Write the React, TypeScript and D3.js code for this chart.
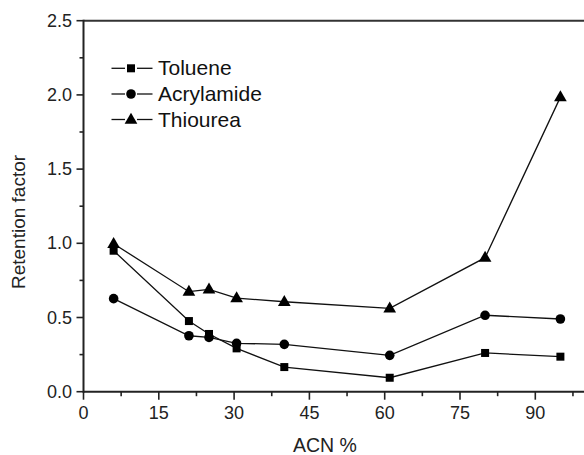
import React from "react";
import * as d3 from "d3";

const acn = [6, 21, 25, 30.5, 40, 61, 80, 95];
const toluene = [0.95, 0.476, 0.389, 0.292, 0.166, 0.094, 0.261, 0.236];
const acrylamide = [0.627, 0.377, 0.366, 0.326, 0.319, 0.245, 0.515, 0.49];
const thiourea = [0.997, 0.674, 0.69, 0.631, 0.606, 0.562, 0.903, 1.985];
const seriesNames = ["Toluene", "Acrylamide", "Thiourea"];
const seriesShapes = ["square", "circle", "triangle"];
const xTicks = [0, 15, 30, 45, 60, 75, 90];
const yTicks = [0.0, 0.5, 1.0, 1.5, 2.0, 2.5];

const W = 584;
const H = 455;
const FONT = "'Liberation Sans', Arial, Helvetica, sans-serif";

function Marker({ shape, x, y }: { shape: string; x: number; y: number }) {
  if (shape === "square") return <rect x={x - 4} y={y - 4} width={8} height={8} fill="#000" />;
  if (shape === "circle") return <circle cx={x} cy={y} r={4.8} fill="#000" />;
  const sym = d3.symbol().type(d3.symbolTriangle).size(70)();
  return <path d={sym || ""} transform={`translate(${x},${y + 0.5})`} fill="#000" />;
}

export default function App() {
  const x = d3.scaleLinear().domain([0, 100]).range([83.5, 585.5]);
  const y = d3.scaleLinear().domain([0, 2.5]).range([391.7, 20.7]);
  const all = [toluene, acrylamide, thiourea];
  const line = d3
    .line<number>()
    .x((_, i) => x(acn[i]))
    .y((d) => y(d));
  const xMinor = d3.range(7.5, 100, 15);
  const yMinor = d3.range(0.25, 2.5, 0.5);
  const legendY = [68.3, 94, 119.5];

  return (
    <svg
      width={W}
      height={H}
      style={{ position: "absolute", left: 0, top: 0, background: "#fff" }}
      fontFamily={FONT}
    >
      <rect width={W} height={H} fill="#fff" />
      {/* frame */}
      <line x1={x(0)} x2={x(100)} y1={y(2.5)} y2={y(2.5)} stroke="#333" strokeWidth={2} />
      <line x1={x(100)} x2={x(100)} y1={y(0)} y2={y(2.5)} stroke="#333" strokeWidth={2} />
      <line x1={x(0)} x2={x(100)} y1={y(0)} y2={y(0)} stroke="#222" strokeWidth={2} />
      <line x1={x(0)} x2={x(0)} y1={y(0) + 1} y2={y(2.5) - 1} stroke="#222" strokeWidth={2} />
      {/* x ticks */}
      {xTicks.map((t) => (
        <g key={"xt" + t}>
          <line x1={x(t)} x2={x(t)} y1={y(0)} y2={y(0) + 8} stroke="#222" strokeWidth={1.6} />
          <text x={x(t)} y={418.5} textAnchor="middle" fontSize={18} fill="#222">
            {t}
          </text>
        </g>
      ))}
      {xMinor.map((t) => (
        <line key={"xm" + t} x1={x(t)} x2={x(t)} y1={y(0)} y2={y(0) + 4.5} stroke="#222" strokeWidth={1.6} />
      ))}
      {/* y ticks */}
      {yTicks.map((t) => (
        <g key={"yt" + t}>
          <line x1={x(0) - 7} x2={x(0)} y1={y(t)} y2={y(t)} stroke="#222" strokeWidth={1.6} />
          <text x={72} y={y(t) + 6} textAnchor="end" fontSize={18} fill="#222">
            {t.toFixed(1)}
          </text>
        </g>
      ))}
      {yMinor.map((t) => (
        <line key={"ym" + t} x1={x(0) - 4} x2={x(0)} y1={y(t)} y2={y(t)} stroke="#222" strokeWidth={1.6} />
      ))}
      {/* axis labels */}
      <text
        transform={`translate(25,222) rotate(-90)`}
        textAnchor="middle"
        fontSize={19}
        fill="#222"
      >
        Retention factor
      </text>
      <text x={325} y={452} textAnchor="middle" fontSize={19.5} fill="#222">
        ACN %
      </text>
      {/* series */}
      {all.map((vals, si) => (
        <g key={"s" + si}>
          <path d={line(vals) || ""} fill="none" stroke="#111" strokeWidth={1.3} />
          {vals.map((v, i) => (
            <Marker key={i} shape={seriesShapes[si]} x={x(acn[i])} y={y(v)} />
          ))}
        </g>
      ))}
      {/* legend */}
      {seriesNames.map((name, i) => (
        <g key={"lg" + name}>
          <line x1={111.5} x2={125} y1={legendY[i]} y2={legendY[i]} stroke="#111" strokeWidth={1.3} />
          <line x1={137} x2={152.5} y1={legendY[i]} y2={legendY[i]} stroke="#111" strokeWidth={1.3} />
          <Marker shape={seriesShapes[i]} x={131} y={legendY[i]} />
          <text x={158} y={legendY[i] + 7} fontSize={21} fill="#111">
            {name}
          </text>
        </g>
      ))}
    </svg>
  );
}
